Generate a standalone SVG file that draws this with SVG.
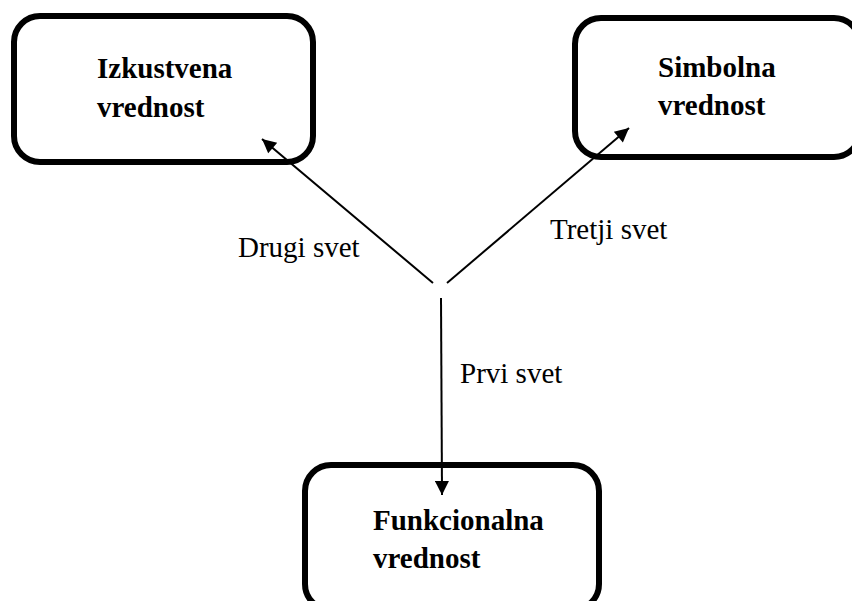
<svg xmlns="http://www.w3.org/2000/svg" width="852" height="601" viewBox="0 0 852 601">
<style>
.box{fill:#fff;stroke:#000;stroke-width:6}
.t{font-family:"Liberation Serif","Times New Roman",serif;font-size:29px;font-weight:bold;fill:#000}
.l{font-family:"Liberation Serif","Times New Roman",serif;font-size:29px;fill:#000}
.c{stroke:#000;stroke-width:2;fill:none}
</style>
<defs>
<marker id="ah" viewBox="0 0 10 10" refX="10" refY="5" markerWidth="8" markerHeight="7" orient="auto" markerUnits="strokeWidth">
<path d="M0,0 L10,5 L0,10 z" fill="#000"/>
</marker>
</defs>
<rect width="852" height="601" fill="#fff"/>
<g id="izkustvena">
<rect class="box" x="14" y="16" width="299" height="146" rx="26"/>
<text class="t" x="97" y="78">Izkustvena</text>
<text class="t" x="97" y="117">vrednost</text>
</g>
<g id="simbolna">
<rect class="box" x="575" y="18" width="285" height="139" rx="26"/>
<text class="t" x="658" y="77">Simbolna</text>
<text class="t" x="658" y="115">vrednost</text>
</g>
<g id="funkcionalna">
<rect class="box" x="305" y="465" width="294" height="145" rx="26"/>
<text class="t" x="373" y="530">Funkcionalna</text>
<text class="t" x="373" y="568">vrednost</text>
</g>
<g id="connectors">
<line class="c" x1="433" y1="283" x2="262" y2="139" marker-end="url(#ah)"/>
<line class="c" x1="447" y1="283" x2="629" y2="128" marker-end="url(#ah)"/>
<line class="c" x1="441" y1="298" x2="442" y2="495" marker-end="url(#ah)"/>
<text class="l" x="238" y="257">Drugi svet</text>
<text class="l" x="550" y="239">Tretji svet</text>
<text class="l" x="460" y="383">Prvi svet</text>
</g>
</svg>
